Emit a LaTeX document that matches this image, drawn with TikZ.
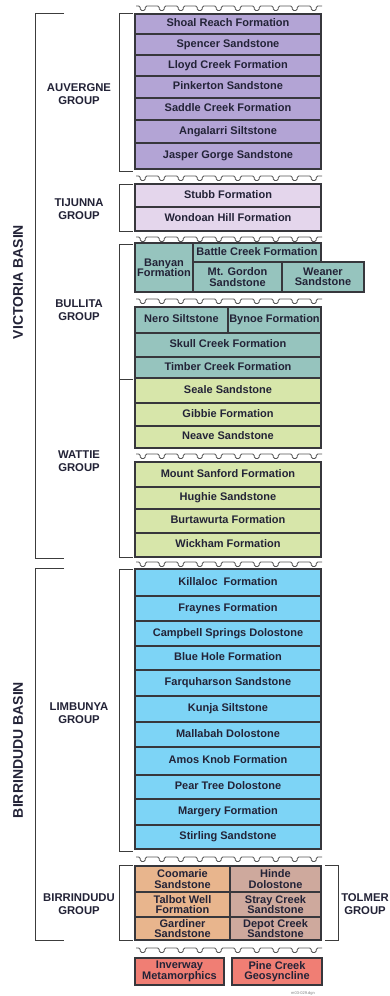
\documentclass[tikz,border=0pt]{standalone}
\usepackage{fontspec}
\setmainfont{Liberation Sans}
\usepackage{tikz}
\usetikzlibrary{positioning}
\definecolor{auvfill}{RGB}{179,164,213}
\definecolor{tijfill}{RGB}{228,214,236}
\definecolor{bulfill}{RGB}{150,196,190}
\definecolor{watfill}{RGB}{215,230,170}
\definecolor{limfill}{RGB}{125,212,246}
\definecolor{birfill}{RGB}{232,181,141}
\definecolor{tolfill}{RGB}{206,169,157}
\definecolor{basfill}{RGB}{240,126,116}
\definecolor{txtdark}{RGB}{35,35,55}
\definecolor{boxline}{RGB}{55,55,60}
\definecolor{brkline}{RGB}{60,60,60}
\definecolor{uncgray}{RGB}{85,85,85}
\tikzset{
  cell/.style={rectangle, draw=boxline, line width=1.1pt,
    minimum width=186, minimum height=22, inner sep=0pt, align=center,
    font=\fontsize{11}{10.4}\selectfont\bfseries, text=txtdark},
  unit/.style={cell, text height=8.2, text depth=2.3},
  grouplabel/.style={font=\fontsize{11.3}{12.5}\selectfont\bfseries,
    text=txtdark, align=center, inner sep=0pt},
  basinlabel/.style={font=\fontsize{14}{14}\selectfont\bfseries,
    text=txtdark, rotate=90, inner sep=0pt},
  brk/.style={draw=brkline, line width=0.9pt},
  uncline/.style={draw=uncgray, line width=0.9pt, rounded corners=1.5pt}
}

\begin{document}
\begin{tikzpicture}[x=1pt, y=-1pt]
  \fill[white] (0,0) rectangle (389,996);
  \useasboundingbox (0,0) rectangle (389,996);

  % Auvergne Group
  \node[unit, fill=auvfill, minimum height=20] (shoal) at (228,24) {Shoal Reach Formation};
  \node[unit, fill=auvfill, minimum height=21] (spencer) at (228,44.5) {Spencer Sandstone};
  \node[unit, fill=auvfill, minimum height=21] (lloyd) at (228,65.5) {Lloyd Creek Formation};
  \node[unit, fill=auvfill, minimum height=22] (pinkerton) at (228,87) {Pinkerton Sandstone};
  \node[unit, fill=auvfill, minimum height=22] (saddle) at (228,109) {Saddle Creek Formation};
  \node[unit, fill=auvfill, minimum height=23] (angalarri) at (228,131.5) {Angalarri Siltstone};
  \node[unit, fill=auvfill, minimum height=26] (jasper) at (228,156) {Jasper Gorge Sandstone};

  % Tijunna Group
  \node[unit, fill=tijfill, minimum height=23] (stubb) at (228,195.5) {Stubb Formation};
  \node[unit, fill=tijfill, minimum height=24] (wondoan) at (228,219) {Wondoan Hill Formation};

  % Bullita Group
  \node[cell, fill=bulfill, minimum width=58, minimum height=49] (banyan) at (164,267.5) {Banyan\\Formation};
  \node[unit, fill=bulfill, minimum width=128, minimum height=19] (battle) at (257,252.5) {Battle Creek Formation};
  \node[cell, fill=bulfill, minimum width=89, minimum height=30] (gordon) at (237.5,277) {Mt. Gordon\\Sandstone};
  \node[cell, fill=bulfill, minimum width=82, minimum height=30] (weaner) at (323,277) {Weaner\\Sandstone};
  \node[unit, fill=bulfill, minimum width=93, minimum height=26] (nero) at (181.5,320) {Nero Siltstone};
  \node[unit, fill=bulfill, minimum width=93, minimum height=26] (bynoe) at (274.5,320) {Bynoe Formation};
  \node[unit, fill=bulfill, minimum height=24] (skull) at (228,345) {Skull Creek Formation};
  \node[unit, fill=bulfill, minimum height=21] (timber) at (228,367.5) {Timber Creek Formation};

  % Wattie Group
  \node[unit, fill=watfill, minimum height=25] (seale) at (228,390.5) {Seale Sandstone};
  \node[unit, fill=watfill, minimum height=23] (gibbie) at (228,414.5) {Gibbie Formation};
  \node[unit, fill=watfill, minimum height=22] (neave) at (228,437) {Neave Sandstone};
  \node[unit, fill=watfill, minimum height=25] (sanford) at (228,474.5) {Mount Sanford Formation};
  \node[unit, fill=watfill, minimum height=22] (hughie) at (228,498) {Hughie Sandstone};
  \node[unit, fill=watfill, minimum height=24] (burtawurta) at (228,521) {Burtawurta Formation};
  \node[unit, fill=watfill, minimum height=24] (wickham) at (228,545) {Wickham Formation};

  % Limbunya Group
  \node[unit, fill=limfill, minimum height=27] (killaloc) at (228,582.5) {Killaloc\ \ Formation};
  \node[unit, fill=limfill, minimum height=25] (fraynes) at (228,608.5) {Fraynes Formation};
  \node[unit, fill=limfill, minimum height=25] (campbell) at (228,633.5) {Campbell Springs Dolostone};
  \node[unit, fill=limfill, minimum height=24] (bluehole) at (228,658) {Blue Hole Formation};
  \node[unit, fill=limfill, minimum height=26] (farquharson) at (228,683) {Farquharson Sandstone};
  \node[unit, fill=limfill, minimum height=26] (kunja) at (228,709) {Kunja Siltstone};
  \node[unit, fill=limfill, minimum height=25] (mallabah) at (228,734.5) {Mallabah Dolostone};
  \node[unit, fill=limfill, minimum height=28] (amos) at (228,761) {Amos Knob Formation};
  \node[unit, fill=limfill, minimum height=24] (peartree) at (228,787) {Pear Tree Dolostone};
  \node[unit, fill=limfill, minimum height=26] (margery) at (228,812) {Margery Formation};
  \node[unit, fill=limfill, minimum height=24] (stirling) at (228,837) {Stirling Sandstone};

  % Birrindudu and Tolmer Groups
  \node[cell, fill=birfill, minimum width=95, minimum height=26] (coomarie) at (182.5,879) {Coomarie\\Sandstone};
  \node[cell, fill=birfill, minimum width=95, minimum height=25] (talbot) at (182.5,904.5) {Talbot Well\\Formation};
  \node[cell, fill=birfill, minimum width=95, minimum height=23] (gardiner) at (182.5,928.5) {Gardiner\\Sandstone};
  \node[cell, fill=tolfill, minimum width=91, minimum height=26] (hinde) at (275.5,879) {Hinde\\Dolostone};
  \node[cell, fill=tolfill, minimum width=91, minimum height=25] (stray) at (275.5,904.5) {Stray Creek\\Sandstone};
  \node[cell, fill=tolfill, minimum width=91, minimum height=23] (depot) at (275.5,928.5) {Depot Creek\\Sandstone};

  % Basement
  \node[cell, fill=basfill, minimum width=89, minimum height=27] (inverway) at (179.5,971.5) {Inverway\\Metamorphics};
  \node[cell, fill=basfill, minimum width=90, minimum height=27] (pinecreek) at (277,971.5) {Pine Creek\\Geosyncline};

  % unconformities
  \foreach \uy in {6,176,237,299,454,562,857,948}
    \draw[uncline] (136,\uy) foreach \k in {0,...,9}{
        -- ({140.2+19*\k},\uy) -- ({140.2+19*\k},{\uy+4.5})
        -- ({145.2+19*\k},{\uy+4.5}) -- ({145.2+19*\k},\uy)
      } -- (322,\uy);

  % group brackets
  \foreach \top/\bot in {13/171, 184/231, 244/379, 379/557, 569/851, 865/940}
    \draw[brk] (133,\top) -- (119,\top) -- (119,\bot) -- (133,\bot);
  \draw[brk] (325,865) -- (338,865) -- (338,940) -- (325,940);

  % basin brackets
  \foreach \top/\bot in {13/558, 568/940}
    \draw[brk] (64,\top) -- (35,\top) -- (35,\bot) -- (64,\bot);

  % labels
  \node[grouplabel] (auvergne) at (79,94) {AUVERGNE\\GROUP};
  \node[grouplabel] (tijunna) at (79,209) {TIJUNNA\\GROUP};
  \node[grouplabel] (bullita) at (79,310) {BULLITA\\GROUP};
  \node[grouplabel] (wattie) at (79,461) {WATTIE\\GROUP};
  \node[grouplabel] (limbunya) at (79,713) {LIMBUNYA\\GROUP};
  \node[grouplabel] (birrindudu) at (79,904) {BIRRINDUDU\\GROUP};
  \node[grouplabel] (tolmer) at (365,904) {TOLMER\\GROUP};
  \node[basinlabel] (victoria) at (18,282) {VICTORIA BASIN};
  \node[basinlabel] (birrbasin) at (18,750) {BIRRINDUDU BASIN};

  \node[font=\fontsize{4}{4}\selectfont, text=gray, inner sep=0pt] (dgn) at (303,993) {m03-029.dgn};
\end{tikzpicture}
\end{document}
